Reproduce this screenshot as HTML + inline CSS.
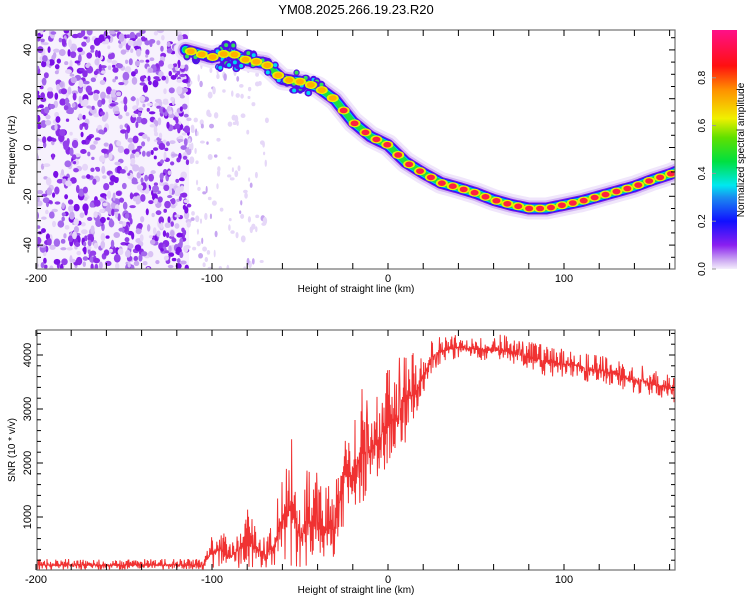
<!DOCTYPE html>
<html><head><meta charset="utf-8"><style>
body{margin:0;background:#fff;}
svg{display:block;font-family:"Liberation Sans",sans-serif;}
</style></head><body>
<svg id="c" width="750" height="600" xmlns="http://www.w3.org/2000/svg">
<defs>
<linearGradient id="cb" x1="0" y1="1" x2="0" y2="0">
<stop offset="0" stop-color="#f4eefc"/><stop offset="0.04" stop-color="#c9a3f2"/>
<stop offset="0.1" stop-color="#8a1ff0"/><stop offset="0.2" stop-color="#1010ff"/>
<stop offset="0.3" stop-color="#1a8cf0"/><stop offset="0.35" stop-color="#00e8f0"/>
<stop offset="0.45" stop-color="#00e040"/><stop offset="0.55" stop-color="#60e000"/>
<stop offset="0.63" stop-color="#f0f000"/><stop offset="0.75" stop-color="#ff9000"/>
<stop offset="0.85" stop-color="#ff1010"/><stop offset="1" stop-color="#ff1088"/>
</linearGradient>
<clipPath id="clipTop"><rect x="37" y="30" width="638" height="239"/></clipPath>
<clipPath id="clipBot"><rect x="37" y="330" width="638" height="240"/></clipPath>
</defs>
<text x="356" y="14" font-size="13" text-anchor="middle">YM08.2025.266.19.23.R20</text>
<g id="topG" clip-path="url(#clipTop)"></g>
<g id="botG" clip-path="url(#clipBot)"></g>
<g id="axes"></g>
<rect x="712" y="30" width="25" height="239" fill="url(#cb)"/>
<text transform="translate(744,150) rotate(-90)" font-size="10" text-anchor="middle">Normalized spectral amplitude</text>
<g id="cbt"></g>
</svg>
<script>
// ridge (frequency track) data
const ridgeKm=[-115,-110,-100,-90,-80,-70,-60,-50,-40,-30,-20,-10,0,10,20,30,40,50,60,70,80,90,100,110,120,130,140,150,160,165];
const ridgeHz=[40,39,37,39,35.7,34.6,28,27,24.8,19.5,10.5,4.5,1,-6,-10.5,-14.5,-16.5,-18.7,-21.5,-23.5,-25,-25,-23.5,-22,-20,-18,-16,-13.3,-11,-9.5];
// SNR envelope data (every 5 km)
const snrKm=[];for(let k=-200;k<=165;k+=5)snrKm.push(k);
const snrLo=[20,20,20,20,20,20,20,20,20,20,20,20,20,20,20,20,20,20,20,20,
60,80,50,60,60,80,60,100,150,100,20,20,20,20,100,900,1100,1200,1600,1700,2000,2000,2400,2600,3200,3700,3850,3900,3950,3900,3900,3900,3900,3850,3800,3800,3750,3700,3600,3600,3600,3600,3550,3500,3500,3450,3400,3350,3300,3300,3250,3200,3150,3100];
const snrHi=[220,220,220,220,220,220,220,220,220,220,220,220,220,220,220,220,220,220,220,220,
700,800,500,800,1300,800,600,900,2000,2500,1300,2000,1800,1700,1600,2900,2600,3400,3000,3300,3800,3800,4300,4000,4100,4300,4350,4350,4380,4380,4350,4350,4300,4400,4300,4250,4250,4200,4200,4150,4100,4100,4050,4000,4000,3950,3950,3850,3800,3800,3700,3700,3650,3600];
const xTicks=[-200,-100,0,100];
const fTicks=[-40,-20,0,20,40];
const sTicks=[1000,2000,3000,4000];
const cbTicks=[0.0,0.2,0.4,0.6,0.8];

const NS="http://www.w3.org/2000/svg";
const X=k=>388+k*1.76;
const YF=f=>147.5-f*2.44;
const YS=v=>571-v*0.054;
function mk(tag,at,par){const e=document.createElementNS(NS,tag);for(const k in at)e.setAttribute(k,at[k]);par.appendChild(e);return e;}
function interp(xs,ys,x){if(x<=xs[0])return ys[0];for(let i=1;i<xs.length;i++){if(x<=xs[i]){const t=(x-xs[i-1])/(xs[i]-xs[i-1]);return ys[i-1]+t*(ys[i]-ys[i-1]);}}return ys[ys.length-1];}
let seed=12345;function rnd(){seed=(seed*1103515245+12345)&0x7fffffff;return seed/0x7fffffff;}

// --- spectrogram noise texture
const topG=document.getElementById('topG');
const bgn=mk('rect',{x:X(-200),y:30,width:X(-113)-X(-200),height:240,fill:'#f7f2fd'},topG);


const ncol=['#e6d6f8','#d9c2f5','#c9a6f1','#a468ec','#8a2ae8','#7a10e6','#9440ea'];
const ng=mk('g',{},topG);


for(let i=0;i<1000;i++){const k=-200+rnd()*87,f=-50+rnd()*99;const c=ncol[Math.floor(rnd()*ncol.length)];
mk('ellipse',{cx:X(k),cy:YF(f),rx:1.5+rnd()*2,ry:1.5+rnd()*2.8,fill:c},ng);}
for(let i=0;i<130;i++){const k=-113+rnd()*45,f=-50+rnd()*85;mk('ellipse',{cx:X(k),cy:YF(f),rx:1+rnd()*1.5,ry:1.5+rnd()*2.5,fill:rnd()<0.85?'#e6d8f8':'#c7a6f1'},ng);}
// --- ridge
const rg=mk('g',{},topG);


let pts=[];for(let k=-115;k<=166;k+=1)pts.push(X(k)+','+YF(interp(ridgeKm,ridgeHz,k)));
const layers=[[22,'#f0e6fb'],[16,'#d2b6f4'],[12,'#7a14e8'],[10,'#1a1aff'],[8,'#00c8f0'],[6,'#20e040']];
for(const [w,c] of layers){mk('polyline',{points:pts.join(' '),fill:'none',stroke:c,'stroke-width':w,'stroke-linejoin':'round','stroke-linecap':'round'},rg);}
// blobby scatter around the upper part of the ridge
for(let i=0;i<60;i++){const k=-115+rnd()*80;const f=interp(ridgeKm,ridgeHz,k)+(rnd()-0.6)*9;
mk('ellipse',{cx:X(k),cy:YF(f),rx:3+rnd()*2,ry:3+rnd()*2,fill:'#5010e8'},rg);
mk('ellipse',{cx:X(k),cy:YF(f),rx:2,ry:2,fill:rnd()<0.5?'#00d8f0':'#30e060'},rg);}
for(let k=-112;k<=164;k+=6.2){const f=interp(ridgeKm,ridgeHz,k);
mk('ellipse',{cx:X(k),cy:YF(f),rx:6,ry:4,fill:'#e8f000'},rg);
const d=mk('ellipse',{cx:X(k),cy:YF(f),rx:4,ry:2.8,fill:k<-30?'#ffb000':'#ff2040'},rg);

}
// --- SNR line
const botG=document.getElementById('botG');
let sp=[];let i=0;
for(let k=-200;k<=165;k+=0.25){const lo=interp(snrKm,snrLo,k),hi=interp(snrKm,snrHi,k);const h=rnd();
let f=(i%2)?0.45+0.55*h*h:0.45*(1-h*h);if(rnd()<0.04)f=rnd()<0.5?1:0;
sp.push(X(k).toFixed(1)+','+YS(lo+(hi-lo)*f).toFixed(1));i++;}
const sl=mk('polyline',{points:sp.join(' '),fill:'none',stroke:'#f03232','stroke-width':1},botG);



// --- axes
const ax=document.getElementById('axes');
function frame(y0,y1,name){const r=mk('rect',{x:37,y:y0,width:638,height:y1-y0,fill:'none',stroke:'#707070','stroke-width':1.2},ax);

for(let k=-200;k<=165;k+=20){const x=X(k);mk('line',{x1:x,y1:y1,x2:x,y2:y1-6,stroke:'#000'},ax);mk('line',{x1:x,y1:y0,x2:x,y2:y0+6,stroke:'#000'},ax);}
for(const t of xTicks){const tx=mk('text',{x:X(t),y:y1+13,'font-size':11,'text-anchor':'middle'},ax);tx.textContent=t;
}
const xl=mk('text',{x:356,y:y1+23,'font-size':10,'text-anchor':'middle'},ax);xl.textContent='Height of straight line (km)';
}
frame(30,269,'top-plot-frame');frame(330,570,'bottom-plot-frame');
for(let f=-45;f<=45;f+=5){const y=YF(f),L=f%20===0?6:4;mk('line',{x1:37,y1:y,x2:37+L,y2:y,stroke:'#000'},ax);mk('line',{x1:675,y1:y,x2:675-L,y2:y,stroke:'#000'},ax);}
for(const t of fTicks){const tx=mk('text',{transform:`translate(31,${YF(t)}) rotate(-90)`,'font-size':11,'text-anchor':'middle'},ax);tx.textContent=t;
}
let yl=mk('text',{transform:'translate(15,150) rotate(-90)','font-size':10,'text-anchor':'middle'},ax);yl.textContent='Frequency (Hz)';

for(let v=200;v<=4400;v+=200){const y=YS(v),L=v%1000===0?6:4;mk('line',{x1:37,y1:y,x2:37+L,y2:y,stroke:'#000'},ax);mk('line',{x1:675,y1:y,x2:675-L,y2:y,stroke:'#000'},ax);}
for(const t of sTicks){const tx=mk('text',{transform:`translate(31,${YS(t)}) rotate(-90)`,'font-size':11,'text-anchor':'middle'},ax);tx.textContent=t;
}
yl=mk('text',{transform:'translate(15,450) rotate(-90)','font-size':10,'text-anchor':'middle'},ax);yl.textContent='SNR (10 * v/v)';

const cbt=document.getElementById('cbt');
for(const t of cbTicks){const y=269-t*239;const tx=mk('text',{transform:`translate(705,${y}) rotate(-90)`,'font-size':10,'text-anchor':'middle'},cbt);tx.textContent=t.toFixed(1);

mk('line',{x1:712,y1:y,x2:716,y2:y,stroke:'#999'},cbt);}
</script>
</body></html>
